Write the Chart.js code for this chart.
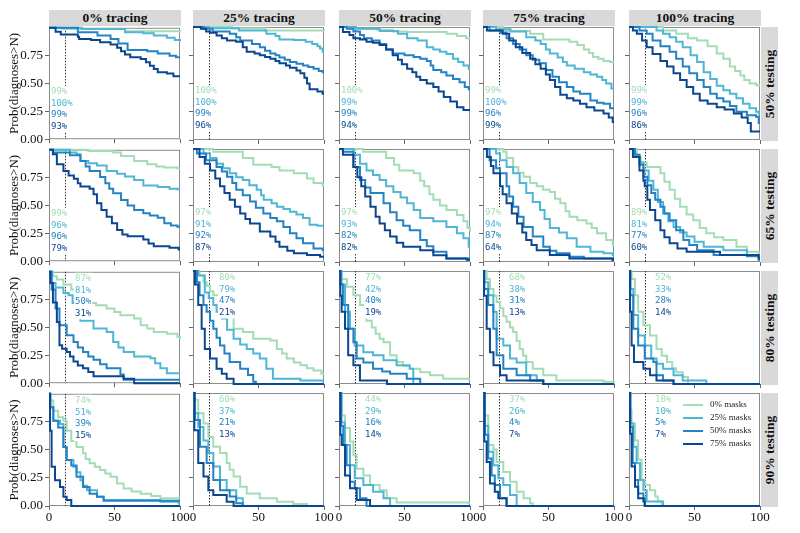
<!DOCTYPE html>
<html>
<head>
<meta charset="utf-8">
<script src="https://cdn.jsdelivr.net/npm/chart.js@4.4.1/dist/chart.umd.min.js"></script>
<style>
  body { margin: 0; background: #fff; width: 800px; height: 533px; position: relative; overflow: hidden; }
  canvas { position: absolute; }
  .hdr { position: absolute; top: 10px; height: 16px; width: 132px; background: #d9d9d9;
         font: bold 13.5px "Liberation Serif", serif; text-align: center; line-height: 16px; color: #111; }
  .rlab { position: absolute; left: 761px; width: 17px; height: 114px; background: #d9d9d9; }
  .rlab span { position: absolute; left: 50%; top: 50%; transform: translate(-50%, -50%) rotate(-90deg);
               white-space: nowrap; font: bold 13.5px "Liberation Serif", serif; color: #111; }
</style>
</head>
<body>
<script>
// categories
const tracingLevels = ['0% tracing', '25% tracing', '50% tracing', '75% tracing', '100% tracing'];
const testingLevels = ['50% testing', '65% testing', '80% testing', '90% testing'];
const maskLabels = ['0% masks', '25% masks', '50% masks', '75% masks'];
const yTicks = [0, 0.25, 0.5, 0.75];
const xTicks = [0, 50, 100];
const cutoffDay = 12;

// curves: flat [x, y, x, y, ...] per mask level (0%, 25%, 50%, 75%)
// ---- 50% testing
const te50_tr0 = [
  [0,1, 10,0.99, 58,0.97, 100,0.965],
  [0,1, 25,0.99, 58,0.96, 72,0.95, 80,0.93, 90,0.91, 96,0.89, 100,0.88],
  [0,1, 22,0.96, 37,0.93, 47,0.9, 53,0.86, 60,0.8, 75,0.79, 83,0.77, 92,0.75, 97,0.735],
  [0,1, 5,0.965, 9,0.94, 22,0.92, 23,0.9, 32,0.89, 39,0.87, 47,0.85, 52,0.82, 55,0.79, 58,0.76, 62,0.735, 70,0.72, 74,0.69, 77,0.66, 80,0.63, 83,0.6, 90,0.59, 95,0.565]
];
const te50_tr25 = [
  [0,1, 30,0.99, 55,0.97, 100,0.965],
  [0,1, 12,0.99, 35,0.97, 56,0.94, 63,0.92, 66,0.89, 77,0.885, 86,0.87, 91,0.85, 95,0.83, 97,0.81, 99,0.78],
  [0,1, 8,0.985, 15,0.96, 28,0.94, 33,0.91, 36,0.88, 45,0.85, 51,0.82, 55,0.79, 59,0.765, 63,0.75, 66,0.73, 70,0.71, 74,0.69, 79,0.675, 84,0.66, 88,0.645, 92,0.63, 96,0.61, 99,0.6],
  [0,1, 6,0.985, 10,0.96, 13,0.95, 18,0.925, 22,0.9, 26,0.88, 33,0.87, 38,0.82, 41,0.78, 47,0.765, 51,0.75, 55,0.735, 59,0.72, 63,0.7, 66,0.68, 71,0.66, 74,0.64, 79,0.615, 82,0.59, 85,0.55, 87,0.5, 89,0.45, 95,0.43, 99,0.41]
];
const te50_tr50 = [
  [0,1, 11,0.985, 29,0.975, 41,0.96, 52,0.955, 82,0.94, 90,0.92, 97,0.9],
  [0,1, 13,0.985, 31,0.965, 45,0.94, 52,0.9, 60,0.88, 67,0.82, 72,0.8, 77,0.78, 82,0.76, 87,0.72, 91,0.69, 95,0.66, 99,0.63],
  [0,1, 6,0.985, 11,0.96, 16,0.93, 19,0.9, 25,0.88, 31,0.85, 36,0.8, 41,0.765, 50,0.75, 57,0.735, 62,0.72, 67,0.7, 70,0.66, 72,0.62, 78,0.6, 82,0.57, 87,0.54, 92,0.51, 96,0.47, 99,0.45],
  [0,1, 3,0.955, 8,0.93, 11,0.9, 16,0.89, 21,0.87, 26,0.86, 31,0.84, 36,0.8, 41,0.75, 45,0.71, 48,0.67, 52,0.63, 56,0.6, 59,0.56, 62,0.53, 67,0.5, 72,0.47, 76,0.43, 80,0.38, 85,0.34, 90,0.29, 95,0.265]
];
const te50_tr75 = [
  [0,1, 15,0.965, 36,0.94, 46,0.89, 66,0.87, 72,0.84, 77,0.8, 81,0.77, 84,0.735, 88,0.72, 92,0.7, 97,0.69],
  [0,1, 10,0.98, 21,0.96, 33,0.91, 40,0.88, 44,0.85, 48,0.8, 51,0.765, 57,0.73, 61,0.69, 64,0.66, 70,0.63, 77,0.6, 82,0.58, 87,0.56, 91,0.53, 94,0.5, 98,0.455],
  [0,1, 5,0.97, 13,0.95, 18,0.9, 23,0.85, 28,0.8, 33,0.75, 38,0.71, 43,0.68, 48,0.62, 53,0.56, 58,0.51, 64,0.47, 69,0.43, 74,0.41, 82,0.35, 87,0.33, 92,0.32, 97,0.28],
  [0,1, 3,0.97, 15,0.94, 20,0.88, 25,0.82, 30,0.77, 36,0.72, 40,0.67, 44,0.63, 48,0.58, 51,0.53, 55,0.47, 59,0.4, 64,0.37, 69,0.35, 74,0.32, 79,0.29, 85,0.26, 92,0.235, 96,0.2, 99,0.16]
];
const te50_tr100 = [
  [0,1, 26,0.97, 36,0.94, 45,0.9, 52,0.88, 60,0.83, 67,0.765, 72,0.72, 77,0.65, 81,0.61, 85,0.57, 88,0.53, 92,0.5, 97,0.485],
  [0,1, 21,0.97, 26,0.94, 31,0.91, 36,0.87, 41,0.82, 47,0.75, 52,0.69, 57,0.6, 62,0.54, 67,0.48, 72,0.44, 77,0.41, 82,0.37, 87,0.32, 92,0.28, 97,0.25, 99,0.235],
  [0,1, 8,0.97, 13.5,0.94, 18,0.88, 24,0.83, 31,0.78, 36,0.72, 41,0.65, 46,0.59, 52,0.53, 57,0.47, 62,0.41, 67,0.37, 72,0.34, 77,0.3, 82,0.25, 90,0.22, 97,0.205, 99,0.15],
  [0,1, 3,0.97, 6,0.94, 10,0.88, 13.5,0.82, 18,0.76, 24,0.7, 29,0.65, 34,0.59, 39,0.53, 44,0.47, 49,0.41, 54,0.35, 60,0.32, 67,0.29, 73,0.27, 80,0.235, 86,0.2, 90.6,0.15, 93,0.075]
];
// ---- 65% testing
const te65_tr0 = [
  [0,1, 30,0.99, 49,0.975, 55,0.945, 65,0.9, 75,0.87, 82,0.85, 88,0.84, 98,0.835],
  [0,1, 16,0.975, 21,0.96, 24,0.9, 30,0.88, 36.6,0.86, 44,0.81, 52,0.785, 58,0.76, 65,0.73, 72,0.68, 83,0.665, 92,0.65, 98,0.645],
  [0,1, 3,0.975, 16,0.95, 24,0.9, 28,0.85, 31,0.81, 39,0.755, 43,0.7, 46,0.65, 49,0.61, 55,0.55, 60,0.5, 65,0.46, 72,0.43, 77,0.41, 83,0.39, 88,0.34, 93,0.32, 98,0.31],
  [0,1, 3,0.96, 6,0.87, 11,0.81, 15,0.77, 19,0.74, 22,0.7, 24,0.67, 31,0.65, 34,0.6, 36.6,0.52, 40,0.46, 44,0.4, 48,0.34, 52,0.28, 56,0.24, 60,0.225, 72,0.195, 76,0.16, 80,0.135, 92,0.12, 99,0.105]
];
const te65_tr25 = [
  [0,1, 15.5,0.975, 38,0.92, 46,0.86, 60,0.84, 66,0.81, 77,0.785, 87,0.74, 92,0.7, 99,0.68],
  [0,1, 8,0.96, 13,0.92, 18,0.87, 23,0.83, 28,0.785, 33,0.75, 38,0.725, 43,0.68, 48.6,0.64, 52,0.59, 54,0.55, 60,0.52, 64,0.49, 69,0.47, 74,0.445, 79,0.42, 84,0.39, 89,0.33, 95,0.32],
  [0,1, 3,0.96, 10,0.9, 18,0.84, 22,0.8, 26,0.755, 30,0.7, 33,0.64, 38,0.59, 43.5,0.535, 48,0.48, 53.7,0.43, 59,0.39, 64,0.36, 69,0.31, 74,0.255, 79,0.21, 84,0.165, 92,0.12, 99,0.105],
  [0,1, 5,0.93, 9,0.87, 13,0.81, 17,0.74, 20.6,0.67, 24,0.61, 28,0.55, 32,0.49, 36,0.43, 40,0.38, 43.5,0.34, 51,0.27, 59,0.225, 63,0.18, 66,0.135, 72,0.1, 77,0.077, 87,0.062, 97,0.047]
];
const te65_tr50 = [
  [0,1, 18.6,0.975, 36,0.92, 42,0.86, 46,0.81, 57,0.785, 62,0.72, 65,0.67, 69,0.6, 72,0.55, 77,0.5, 82,0.46, 90,0.415, 95,0.36, 98,0.3, 100,0.27],
  [0,1, 11,0.95, 16,0.87, 21,0.81, 26,0.77, 31,0.725, 36,0.67, 41.5,0.62, 47,0.57, 52,0.52, 57,0.46, 62,0.39, 72,0.36, 82,0.31, 90,0.255, 95,0.21, 99,0.135],
  [0,1, 3,0.975, 11,0.84, 16,0.725, 20,0.66, 24,0.61, 34,0.52, 39,0.44, 44,0.37, 49,0.32, 54,0.28, 62,0.195, 67,0.14, 72,0.09, 82,0.032, 99,0.018],
  [0,1, 3,0.95, 11,0.84, 14,0.75, 17,0.67, 20,0.58, 24,0.49, 28,0.4, 31,0.34, 35,0.28, 39,0.225, 44,0.17, 49,0.135, 62,0.105, 72,0.06, 82,0.032, 97.5,0.02]
];
const te65_tr75 = [
  [0,1, 15.5,0.975, 18,0.92, 23,0.84, 27,0.79, 31,0.755, 36,0.7, 41,0.67, 46,0.64, 51,0.62, 55,0.56, 59,0.52, 63,0.45, 66,0.4, 72,0.37, 79,0.34, 83,0.3, 87,0.255, 94,0.195, 99,0.15],
  [0,1, 10,0.96, 13,0.9, 18,0.84, 23,0.785, 28,0.7, 33,0.61, 38,0.53, 43.5,0.46, 47,0.38, 51,0.3, 58,0.26, 64,0.21, 71.5,0.135, 82,0.09, 92,0.077, 99,0.062],
  [0,1, 5,0.9, 10,0.83, 13,0.785, 18,0.67, 20,0.58, 23,0.49, 27,0.4, 31,0.31, 38,0.225, 46,0.135, 51,0.1, 56,0.077, 66,0.047, 77,0.032, 99,0.018],
  [0,1, 3,0.93, 6,0.85, 8,0.785, 13,0.67, 15,0.6, 18,0.52, 22,0.43, 26,0.34, 30,0.26, 33,0.195, 37,0.15, 41,0.105, 51,0.062, 66,0.032, 99,0.015]
];
const te65_tr100 = [
  [0,1, 6,0.93, 9,0.88, 13.5,0.84, 24,0.785, 27,0.71, 31,0.64, 35,0.56, 39,0.49, 44,0.42, 49,0.37, 54,0.3, 59,0.255, 65,0.22, 72,0.195, 82,0.135, 90,0.09, 99,0.077],
  [0,1, 4.6,0.95, 8,0.88, 11,0.81, 15,0.72, 18.6,0.64, 22,0.53, 26,0.43, 30,0.36, 34,0.31, 39,0.26, 44,0.225, 50,0.18, 57,0.135, 72,0.105, 90,0.062, 99,0.05],
  [0,1, 4.6,0.95, 8,0.86, 11,0.755, 14,0.68, 17,0.61, 20,0.55, 24,0.49, 27,0.43, 31,0.37, 36,0.28, 41.5,0.195, 46,0.15, 52,0.105, 64.6,0.062, 90,0.05, 99,0.02],
  [0,1, 3,0.93, 8,0.81, 11,0.72, 12,0.67, 14,0.55, 16,0.46, 20,0.37, 24,0.28, 27,0.22, 31,0.165, 37,0.12, 44,0.09, 69.5,0.062, 99,0.03]
];
// ---- 80% testing
const te80_tr0 = [
  [0,1, 3,0.96, 6,0.93, 11,0.885, 17,0.84, 22,0.79, 27,0.75, 31,0.72, 36,0.7, 44,0.67, 50,0.64, 54.5,0.61, 65,0.58, 70,0.52, 75,0.49, 80,0.46, 90,0.445, 98,0.415, 100,0.395],
  [0,1, 2,0.9, 5,0.86, 11,0.81, 15,0.79, 18,0.72, 21,0.63, 24,0.56, 34,0.49, 44,0.46, 49,0.37, 53,0.32, 57,0.28, 65,0.24, 77.5,0.225, 81,0.18, 85,0.135, 90,0.09],
  [0,1, 2,0.84, 5,0.67, 8,0.52, 13.5,0.43, 18.7,0.37, 22,0.32, 26,0.28, 30,0.24, 34,0.21, 39,0.17, 44,0.135, 54.5,0.077, 57,0.032],
  [0,1, 1,0.9, 3,0.725, 6,0.55, 8,0.34, 10,0.31, 13.5,0.28, 16,0.24, 18.7,0.195, 22,0.16, 26,0.135, 30,0.1, 34,0.062, 57,0.04, 65,0]
];
const te80_tr25 = [
  [0,1, 5,0.96, 8,0.9, 10.4,0.87, 13,0.82, 15.5,0.785, 20,0.7, 25.7,0.61, 31,0.49, 38,0.46, 46,0.4, 59,0.385, 64,0.31, 68,0.27, 71.5,0.225, 77,0.19, 82,0.165, 87,0.14, 92,0.12, 98,0.09],
  [0,1, 4,0.96, 9,0.81, 12,0.76, 15.5,0.7, 18,0.64, 22,0.58, 26,0.48, 31,0.4, 36,0.35, 41,0.31, 46,0.27, 51,0.225, 56,0.135, 61,0.047, 82,0.032, 99,0.025],
  [0,1, 3,0.9, 5,0.785, 8,0.7, 10.4,0.64, 13,0.56, 15.5,0.49, 18,0.41, 20.6,0.34, 24,0.27, 28,0.195, 36,0.135, 42,0.08, 46,0.02, 48,0],
  [0,1, 1.5,0.88, 4,0.7, 6.6,0.49, 9,0.31, 13,0.225, 18,0.135, 22,0.09, 25.7,0.047, 31,0]
];
const te80_tr50 = [
  [0,1, 2,0.93, 6,0.86, 11,0.785, 16,0.7, 21,0.56, 25,0.5, 28,0.445, 31,0.4, 34,0.37, 39,0.255, 44,0.195, 49,0.16, 54,0.135, 62,0.105, 69.5,0.077, 79.6,0.047, 99,0.04],
  [0,1, 2,0.88, 4.6,0.64, 8.4,0.49, 12,0.34, 18.6,0.28, 26,0.255, 34,0.21, 44,0.165, 54,0.135, 56.7,0],
  [0,1, 1,0.88, 3,0.7, 7,0.49, 11,0.37, 13.5,0.225, 18.6,0.19, 26,0.135, 33,0.11, 39,0.09, 51.7,0.047, 62,0],
  [0,1, 1,0.78, 2,0.64, 4.6,0.49, 7,0.255, 11,0.165, 16,0.032, 36.6,0]
];
const te80_tr75 = [
  [0,1, 2.8,0.93, 5.3,0.84, 8,0.78, 10.4,0.725, 13,0.67, 15.5,0.6, 18,0.55, 20.6,0.5, 23,0.46, 25.7,0.38, 28,0.31, 30.5,0.25, 33,0.195, 38,0.135, 46,0.077, 56,0.032, 92,0.02, 100,0],
  [0,1, 1,0.9, 4,0.785, 7.9,0.64, 10.4,0.4, 15.5,0.34, 20.6,0.225, 25.7,0.19, 33,0.077, 41,0.032, 46,0],
  [0,1, 1,0.84, 4,0.7, 7.9,0.49, 10.4,0.255, 15.5,0.135, 25.7,0.077, 36,0.032, 46,0],
  [0,1, 0.8,0.78, 2.8,0.49, 5.3,0.28, 8,0.165, 13,0.077, 18,0.032, 46,0]
];
const te80_tr100 = [
  [0,1, 2,0.93, 4.6,0.785, 7,0.64, 11,0.52, 16,0.43, 21,0.31, 25,0.25, 29,0.195, 33,0.14, 36,0.105, 41,0.062, 45,0],
  [0,1, 1,0.84, 3.3,0.61, 7,0.43, 12,0.34, 17,0.225, 21,0.18, 26,0.135, 34,0.077, 41,0.032, 59,0],
  [0,1, 1,0.785, 3.3,0.49, 7,0.34, 12,0.225, 18.6,0.195, 21,0.077, 26,0.032, 34,0],
  [0,1, 0.8,0.64, 2,0.34, 3.8,0.195, 11,0.135, 16,0.077, 21,0.032, 34,0]
];
// ---- 90% testing
const te90_tr0 = [
  [0,1, 1,0.94, 3.3,0.85, 7,0.79, 11,0.76, 13.5,0.67, 17,0.58, 21,0.525, 26,0.47, 28,0.42, 31,0.38, 35,0.35, 39,0.32, 43,0.29, 47,0.26, 52,0.2, 57,0.156, 63,0.13, 70,0.11, 78,0.09, 85,0.068],
  [0,1, 1,0.88, 3.3,0.76, 8.4,0.73, 11,0.525, 13.5,0.41, 18.7,0.35, 21,0.3, 24,0.23, 26,0.18, 29,0.14, 36.6,0.083, 41.7,0.053, 85,0.038, 99,0.025],
  [0,1, 1,0.88, 3.3,0.76, 7,0.7, 11,0.525, 13.5,0.41, 17,0.36, 21,0.26, 26,0.17, 31,0.11, 36.6,0.083, 41.7,0.047],
  [0,1, 0.8,0.67, 2,0.35, 4.6,0.23, 8.4,0.17, 11,0.083, 13.5,0.053, 17,0]
];
const te90_tr25 = [
  [0,1, 1.5,0.94, 4,0.82, 8,0.73, 11.7,0.61, 15.5,0.525, 20.6,0.47, 25.7,0.38, 28,0.32, 31,0.26, 36,0.17, 41,0.11, 51,0.068, 64,0.038, 76.6,0.018, 87,0],
  [0,1, 1.5,0.82, 4,0.7, 8,0.58, 11.7,0.47, 15.5,0.35, 20.6,0.23, 25.7,0.14, 33,0.068, 38,0],
  [0,1, 1.5,0.76, 5.3,0.525, 10.4,0.38, 15.5,0.23, 20.6,0.14, 28,0.083, 33,0.024, 38,0],
  [0,1, 1,0.67, 4,0.38, 8,0.26, 11.7,0.14, 15.5,0.097, 25.7,0.038, 31,0]
];
const te90_tr50 = [
  [0,1, 2,0.8, 4.6,0.69, 8.4,0.57, 11,0.45, 13.5,0.33, 18.6,0.27, 23.7,0.185, 31,0.14, 36.4,0.068, 44,0.032, 99,0.025],
  [0,1, 2,0.74, 4.6,0.54, 8.4,0.36, 12,0.245, 18.6,0.185, 26,0.127, 34,0.068, 39,0],
  [0,1, 1.5,0.71, 3.3,0.54, 5.8,0.36, 8.4,0.215, 12,0.156, 16,0.068, 21,0],
  [0,1, 1,0.63, 2,0.54, 4.6,0.27, 8.4,0.156, 13.5,0.053, 23.7,0]
];
const te90_tr75 = [
  [0,1, 1.5,0.8, 4,0.54, 7.9,0.5, 10.4,0.39, 15.5,0.3, 20.6,0.215, 25.7,0.127, 31,0.068, 36,0.024, 38,0],
  [0,1, 1.5,0.71, 4,0.48, 7.9,0.36, 11.7,0.245, 15.5,0.185, 20.6,0.097, 25.7,0],
  [0,1, 1.5,0.63, 4,0.42, 6.6,0.27, 9,0.185, 13,0.068, 18,0],
  [0,1, 1,0.57, 2.8,0.39, 5.3,0.2, 9,0.127, 11.7,0.068, 18,0]
];
const te90_tr100 = [
  [0,1, 1,0.85, 2,0.73, 4.6,0.58, 7,0.41, 9.7,0.23, 12,0.186, 16,0.14, 20,0.083, 22,0.04, 25,0],
  [0,1, 1,0.73, 3.3,0.525, 5.8,0.38, 8.4,0.23, 11,0.14, 13.5,0.04, 23.7,0.04, 26,0],
  [0,1, 1,0.7, 2.8,0.38, 4.6,0.23, 7,0.11, 11,0.068, 12,0],
  [0,1, 0.8,0.64, 2,0.35, 4.6,0.17, 7,0.068, 11,0.04, 12,0]
];

// share of runs above cutoff, per mask level
const pct50 = [[99,100,99,93], [100,100,99,96], [100,99,99,94], [99,100,96,99], [99,99,96,86]];
const pct65 = [[99,96,96,79], [97,91,92,87], [97,93,82,82], [97,94,87,64], [89,81,77,60]];
const pct80 = [[87,81,50,31], [80,79,47,21], [77,42,40,19], [68,38,31,13], [52,33,28,14]];
const pct90 = [[74,51,39,15], [60,37,21,13], [44,29,16,14], [37,26,4,7], [18,10,5,7]];

const curves = [
  [te50_tr0, te50_tr25, te50_tr50, te50_tr75, te50_tr100],
  [te65_tr0, te65_tr25, te65_tr50, te65_tr75, te65_tr100],
  [te80_tr0, te80_tr25, te80_tr50, te80_tr75, te80_tr100],
  [te90_tr0, te90_tr25, te90_tr50, te90_tr75, te90_tr100]
];
const pcts = [pct50, pct65, pct80, pct90];

// layout
const maskColors = ['#a3dcb5', '#4fb6d6', '#2383c4', '#0c4690'];
const panelLeft = [49, 193, 339, 483, 629];
const panelTop = [27, 149, 271, 393];
const PW = 131, PH = 113;
const serif = '"Liberation Serif", serif';

function toPoints(flat) {
    const pts = [];
    for (let i = 0; i < flat.length; i += 2) pts.push({ x: flat[i], y: flat[i + 1] });
    if (pts[pts.length - 1].x < 100) pts.push({ x: 100, y: pts[pts.length - 1].y });
    return pts;
}

// headers
tracingLevels.forEach((t, c) => {
    const d = document.createElement('div');
    d.className = 'hdr';
    d.style.left = panelLeft[c] + 'px';
    d.textContent = t;
    document.body.appendChild(d);
});
testingLevels.forEach((t, r) => {
    const d = document.createElement('div');
    d.className = 'rlab';
    d.style.top = panelTop[r] + 'px';
    d.innerHTML = '<span>' + t + '</span>';
    document.body.appendChild(d);
});

function makeDeco(r, c) {
    return {
        id: 'deco',
        beforeDatasetsDraw(chart) {
            const { ctx, chartArea: a, scales } = chart;
            ctx.save();
            ctx.strokeStyle = '#8c8c8c';
            ctx.lineWidth = 1;
            ctx.strokeRect(a.left + 0.5, a.top + 0.5, a.right - a.left - 1, a.bottom - a.top - 1);
            // cutoff line
            const xc = Math.round(scales.x.getPixelForValue(cutoffDay)) + 0.5;
            ctx.strokeStyle = '#333';
            ctx.setLineDash([1.5, 1.5]);
            ctx.beginPath();
            ctx.moveTo(xc, a.top);
            ctx.lineTo(xc, a.bottom);
            ctx.stroke();
            ctx.restore();
        },
        afterDatasetsDraw(chart) {
            const { ctx, chartArea: a } = chart;
            const vals = pcts[r][c];
            ctx.save();
            ctx.font = '9px "DejaVu Sans Mono", monospace';
            ctx.textBaseline = 'middle';
            ctx.textAlign = 'left';
            const x0 = r < 2 ? a.left + 2 : a.left + 26;
            const y0 = r < 2 ? a.top + 64 : a.top + 7;
            vals.forEach((v, i) => {
                const s = v + '%';
                const y = y0 + i * 11.5;
                const w = ctx.measureText(s).width;
                ctx.fillStyle = '#fff';
                ctx.fillRect(x0 - 1, y - 6, w + 2, 12);
                ctx.fillStyle = maskColors[i];
                ctx.fillText(s, x0, y);
            });
            if (r === 3 && c === 4) {
                ctx.font = '9px ' + serif;
                maskLabels.forEach((lab, i) => {
                    const y = a.top + 12 + i * 13;
                    ctx.strokeStyle = maskColors[i];
                    ctx.lineWidth = 2;
                    ctx.beginPath();
                    ctx.moveTo(a.left + 54, y);
                    ctx.lineTo(a.left + 74, y);
                    ctx.stroke();
                    ctx.fillStyle = '#222';
                    ctx.fillText(lab, a.left + 81, y);
                });
            }
            ctx.restore();
        }
    };
}

for (let r = 0; r < 4; r++) {
    for (let c = 0; c < 5; c++) {
        const ml = c === 0 ? 49 : 6;
        const mb = r === 3 ? 25 : 9;
        const mt = 9, mr = 12;
        const cv = document.createElement('canvas');
        const w = PW + ml + mr, h = PH + mt + mb;
        cv.width = w; cv.height = h;
        cv.style.left = (panelLeft[c] - ml) + 'px';
        cv.style.top = (panelTop[r] - mt) + 'px';
        cv.style.width = w + 'px'; cv.style.height = h + 'px';
        document.body.appendChild(cv);

        new Chart(cv.getContext('2d'), {
            type: 'line',
            data: {
                datasets: curves[r][c].map((s, i) => ({
                    label: maskLabels[i],
                    data: toPoints(s),
                    borderColor: maskColors[i],
                    borderWidth: 2,
                    pointRadius: 0,
                    stepped: 'before',
                    fill: false,
                    order: 3 - i,
                    clip: 2
                }))
            },
            options: {
                responsive: false,
                animation: false,
                devicePixelRatio: 1,
                layout: { padding: { top: mt, right: mr, left: 0, bottom: 0 } },
                plugins: { legend: { display: false }, tooltip: { enabled: false } },
                scales: {
                    x: {
                        type: 'linear', min: 0, max: 100,
                        afterBuildTicks: s => { s.ticks = xTicks.map(v => ({ value: v })); },
                        afterFit: s => { s.height = mb; },
                        ticks: { display: r === 3, font: { family: serif, size: 13 }, color: '#111', padding: 0, maxRotation: 0, autoSkip: false },
                        grid: { drawOnChartArea: false, tickLength: 4, color: '#666' },
                        border: { display: false }
                    },
                    y: {
                        min: 0, max: 1,
                        afterBuildTicks: s => { s.ticks = yTicks.map(v => ({ value: v })); },
                        afterFit: s => { s.width = ml; },
                        ticks: { display: c === 0, callback: v => v.toFixed(2), font: { family: serif, size: 13 }, color: '#111', padding: 2 },
                        grid: { drawOnChartArea: false, tickLength: 4, color: '#666' },
                        border: { display: false },
                        title: { display: c === 0, text: 'Prob(diagnoses>N)', font: { family: serif, size: 13 }, color: '#111', padding: { top: 7, bottom: 0 } }
                    }
                }
            },
            plugins: [makeDeco(r, c)]
        });
    }
}
</script>
</body>
</html>
